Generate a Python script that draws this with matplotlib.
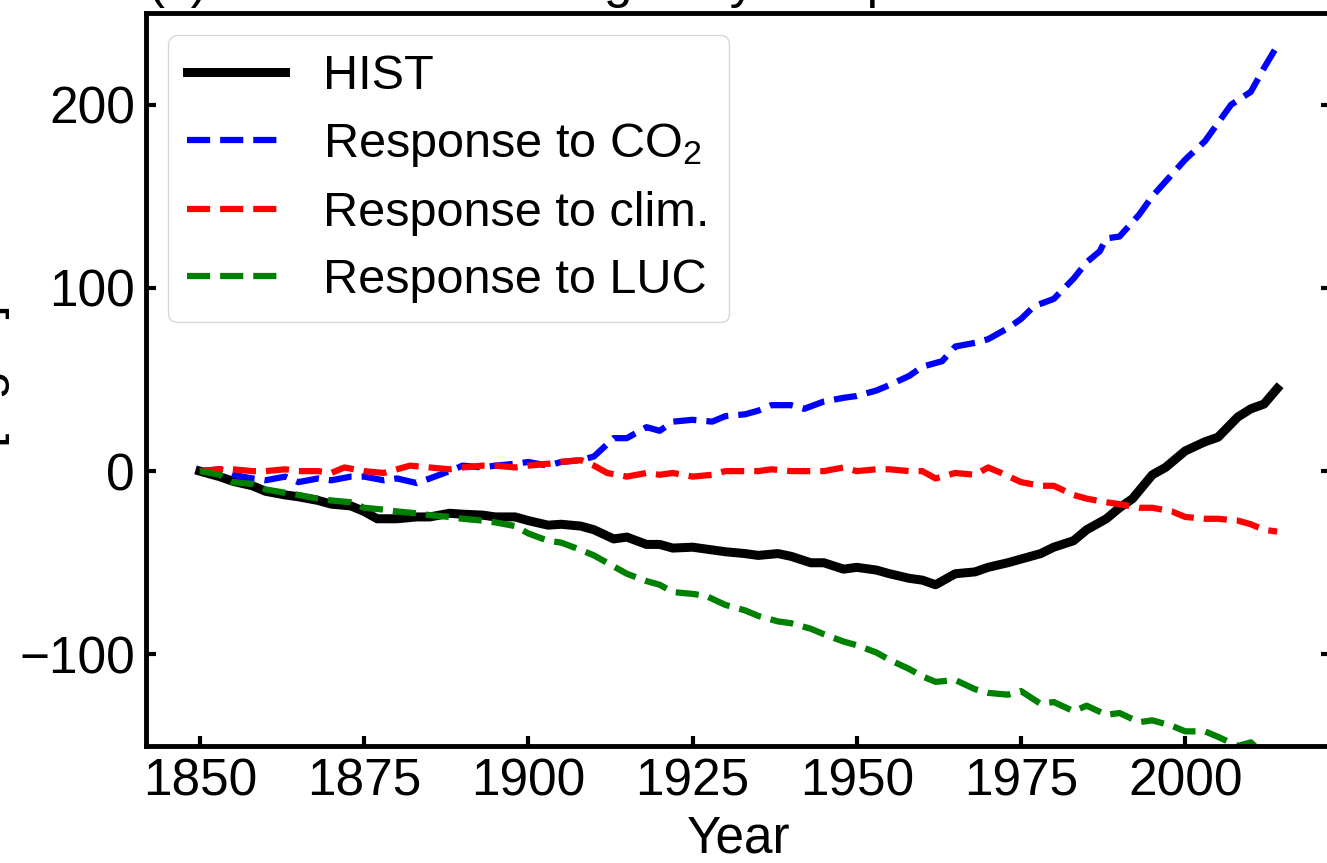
import matplotlib
matplotlib.use('Agg')
import matplotlib.pyplot as plt

plt.rcParams['font.family'] = ['Liberation Sans', 'DejaVu Sans']
plt.rcParams['mathtext.default'] = 'regular'

# HIST (total)
hist_years = [1850, 1853, 1855, 1858, 1860, 1863, 1865, 1868, 1870, 1873, 1875, 1877, 1880,
              1883, 1885, 1888, 1890, 1893, 1895, 1898, 1900, 1903, 1905, 1908, 1910, 1913,
              1915, 1918, 1920, 1922, 1925, 1928, 1930, 1933, 1935, 1938, 1940, 1943, 1945,
              1948, 1950, 1953, 1955, 1958, 1960, 1962, 1965, 1968, 1970, 1973, 1975, 1978,
              1980, 1983, 1985, 1988, 1990, 1992, 1995, 1997, 2000, 2003, 2005, 2008, 2010,
              2012, 2014]
hist_vals = [0, -3, -5.5, -8, -11, -13, -14, -16, -18, -19, -22, -26, -26,
             -25, -25, -23, -23.5, -24, -25, -25, -27, -29.5, -29, -30, -32, -37,
             -36, -40, -40, -42, -41.5, -43, -44, -45, -46, -45, -46.5, -50, -50,
             -53.5, -52.5, -54, -56, -58.5, -59.5, -62, -56, -55, -52.5, -50, -48, -45,
             -41.5, -38, -32, -26, -20, -15, -2, 2, 11, 16, 18.5, 29.5, 34,
             36.6, 45]

# Response to CO2
co2_years = [1850, 1853, 1855, 1858, 1860, 1863, 1865, 1868, 1870, 1873, 1875, 1878, 1880,
             1883, 1885, 1888, 1890, 1893, 1895, 1898, 1900, 1903, 1905, 1908, 1910, 1913,
             1915, 1918, 1920, 1922, 1925, 1928, 1930, 1933, 1935, 1937, 1940, 1942, 1945,
             1948, 1950, 1953, 1955, 1958, 1960, 1963, 1965, 1968, 1970, 1973, 1975, 1977,
             1980, 1983, 1985, 1987, 1988, 1990, 1993, 1995, 1998, 2000, 2003, 2005, 2007,
             2010, 2012, 2014]
co2_vals = [0, 1, -2, -4, -5, -3, -6, -4, -5, -3, -3, -5, -4,
            -6.5, -4, 0, 3, 2, 3, 4, 5, 3, 5, 6, 8, 18,
            18, 24, 22, 27, 28, 27, 30, 31, 33, 36, 36, 34, 38,
            40, 41, 44, 47, 52, 57, 60, 68, 70, 72, 78, 83, 90,
            94, 105, 114, 120, 127, 128, 140, 150, 162, 170, 180, 190, 200,
            207, 220, 232]

# Response to climate
clim_years = [1850, 1853, 1855, 1858, 1860, 1863, 1865, 1868, 1870, 1872, 1875, 1878, 1880,
              1882, 1885, 1888, 1890, 1893, 1895, 1898, 1900, 1903, 1905, 1908, 1910, 1912,
              1915, 1918, 1920, 1922, 1925, 1928, 1930, 1933, 1935, 1937, 1940, 1943, 1945,
              1948, 1950, 1953, 1955, 1958, 1960, 1962, 1965, 1968, 1970, 1972, 1975, 1978,
              1980, 1983, 1985, 1988, 1990, 1993, 1995, 1998, 2000, 2003, 2005, 2008, 2010,
              2012, 2014]
clim_vals = [0, 1, 1, 0, 0, 1, 0, 0, -1, 2, 0, -1, 1,
             3, 2, 1, 2, 3, 3, 2, 3, 4, 5, 6, 3, -1,
             -3, -1, -2, -1, -3, -2, 0, 0, 0, 1, 0, 0, 0,
             2, 0, 1, 1, 0, 0, -4, -1, -2, 2, -1, -6, -8,
             -8, -13, -15, -17, -18, -20, -20, -22, -25, -26, -26, -27, -29,
             -32, -33]

# Response to LUC
luc_years = [1850, 1853, 1855, 1858, 1860, 1865, 1868, 1870, 1873, 1875, 1878, 1880, 1883,
             1885, 1888, 1890, 1893, 1895, 1898, 1900, 1903, 1905, 1908, 1910, 1912, 1915,
             1918, 1920, 1922, 1925, 1927, 1930, 1933, 1935, 1938, 1940, 1943, 1945, 1948,
             1950, 1953, 1955, 1958, 1960, 1962, 1965, 1968, 1970, 1973, 1975, 1978, 1980,
             1983, 1985, 1988, 1990, 1993, 1995, 1998, 2000, 2003, 2005, 2008, 2010, 2012,
             2014]
luc_vals = [0, -2, -6, -7, -10, -13, -15, -16, -17, -20, -21, -22, -23,
            -24, -25, -26, -27, -28, -30, -34, -38, -39, -43, -46, -50, -56,
            -60, -62, -66, -67, -68, -73, -76, -79, -82, -83, -86, -89, -93,
            -95, -99, -103, -108, -112, -115, -114, -119, -121, -122, -120, -127, -126,
            -131, -128, -133, -132, -137, -136, -139, -142, -142, -145, -150, -148, -155,
            -160]

fig = plt.figure(figsize=(13.27, 8.63), dpi=100)
ax = fig.add_axes([146 / 1327, 1 - 746 / 863, (1331 - 146) / 1327, (746 - 13) / 863])

ax.plot(hist_years, hist_vals, color='black', lw=6.5, label='HIST')
ax.plot(co2_years, co2_vals, color='blue', lw=4.5, ls='--', label='Response to CO$_2$')
ax.plot(clim_years, clim_vals, color='red', lw=4.5, ls='--', label='Response to clim.')
ax.plot(luc_years, luc_vals, color='green', lw=4.5, ls='--', label='Response to LUC')

ax.set_ylim(-150, 250)
ax.set_yticks([-100, 0, 100, 200])
ax.set_xticks([1850, 1875, 1900, 1925, 1950, 1975, 2000])
ax.tick_params(direction='in', labelsize=37, length=7, width=3, right=True, pad=8)
for s in ax.spines.values():
    s.set_linewidth(3.5)

ax.set_xlabel('Year', fontsize=37, labelpad=6)
fig.text(10 / 1327, 1 - 376 / 863, '[Pg C]', rotation=90, ha='right', va='center', fontsize=37)
fig.text(148 / 1327, 1 + 3 / 863, '(c) Soil carbon changes by component', fontsize=37,
         ha='left', va='baseline')

ax.legend(loc='upper left', fontsize=35, borderaxespad=0.45, labelspacing=0.45)

fig.savefig('out.png', dpi=100)
